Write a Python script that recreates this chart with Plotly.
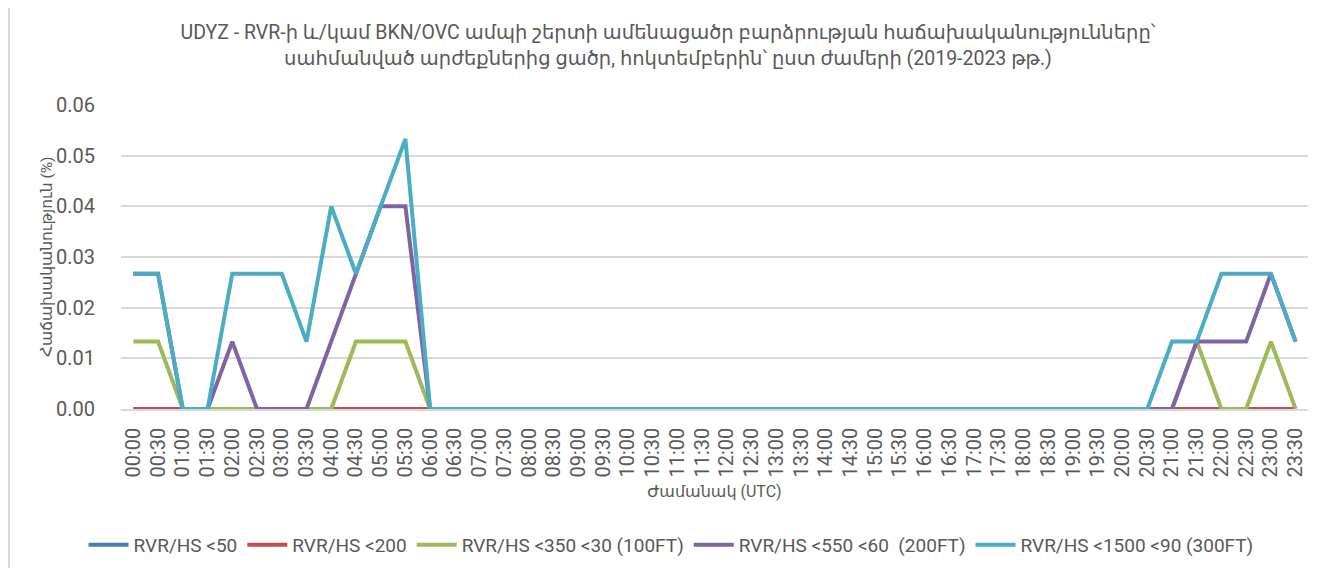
import plotly.graph_objects as go

times = [f"{h:02d}:{m:02d}" for h in range(24) for m in (0, 30)]

s50 = [0.0] * 48
s200 = [0.0] * 48
s350 = [0.0133, 0.0133, 0, 0, 0, 0, 0, 0, 0, 0.0133, 0.0133, 0.0133,
        0, 0, 0, 0, 0, 0, 0, 0, 0, 0, 0, 0,
        0, 0, 0, 0, 0, 0, 0, 0, 0, 0, 0, 0,
        0, 0, 0, 0, 0, 0, 0, 0.0133, 0, 0, 0.0133, 0]
s550 = [0.0267, 0.0267, 0, 0, 0.0133, 0, 0, 0, 0.0133, 0.0267, 0.04, 0.04,
        0, 0, 0, 0, 0, 0, 0, 0, 0, 0, 0, 0,
        0, 0, 0, 0, 0, 0, 0, 0, 0, 0, 0, 0,
        0, 0, 0, 0, 0, 0, 0, 0.0133, 0.0133, 0.0133, 0.0267, 0.0133]
s1500 = [0.0267, 0.0267, 0, 0, 0.0267, 0.0267, 0.0267, 0.0133, 0.04, 0.0267, 0.04, 0.0533,
         0, 0, 0, 0, 0, 0, 0, 0, 0, 0, 0, 0,
         0, 0, 0, 0, 0, 0, 0, 0, 0, 0, 0, 0,
         0, 0, 0, 0, 0, 0, 0.0133, 0.0133, 0.0267, 0.0267, 0.0267, 0.0133]

series = [
    ("RVR/HS <50", s50, "#4a7ebb"),
    ("RVR/HS <200", s200, "#c0504d"),
    ("RVR/HS <350 <30 (100FT)", s350, "#9bbb59"),
    ("RVR/HS <550 <60  (200FT)", s550, "#8064a2"),
    ("RVR/HS <1500 <90 (300FT)", s1500, "#4bacc6"),
]

title = ("UDYZ - RVR-ի և/կամ BKN/OVC ամպի շերտի ամենացածր բարձրության հաճախականությունները՝<br>"
         "սահմանված արժեքներից ցածր, հոկտեմբերին՝ ըստ ժամերի (2019-2023 թթ.)")
y_title = "Հաճախականություն (%)"
x_title = "Ժամանակ (UTC)"

FONT = "Roboto, DejaVu Sans, sans-serif"
GRAY = "#595959"

fig = go.Figure()
for name, vals, col in series:
    fig.add_trace(go.Scatter(x=times, y=vals, name=name, mode="lines",
                             line=dict(color=col, width=4)))

fig.update_layout(
    width=1336, height=568,
    paper_bgcolor="white", plot_bgcolor="white",
    margin=dict(l=113, r=36, t=97, b=167, autoexpand=False),
    font=dict(family=FONT, color=GRAY),
    title=dict(text=title, x=0.494, xanchor="center", y=0.945, yanchor="top",
               font=dict(size=19.5, color=GRAY, family=FONT)),
    legend=dict(orientation="h", xref="container", x=0.4963, xanchor="center",
                y=-0.447, yanchor="middle",
                font=dict(size=19, color=GRAY), itemwidth=40, tracegroupgap=0),
    xaxis=dict(type="category", range=[-0.5, 47.5], tickangle=-90,
               tickfont=dict(size=20, color=GRAY), automargin=False,
               showgrid=False, showline=True, linecolor="#d9d9d9", linewidth=1.5,
               ticks="", ticklabelstandoff=9,
               title=dict(text=x_title, font=dict(size=16, color=GRAY), standoff=9)),
    yaxis=dict(range=[0, 0.06], dtick=0.01, tickformat=".2f", automargin=False,
               tickfont=dict(size=20, color=GRAY), ticklabelstandoff=25,
               showgrid=True, gridcolor="#d9d9d9", gridwidth=1.5, zeroline=False, showline=False),
    showlegend=True,
)
fig.add_annotation(text=y_title, xref="paper", yref="paper", x=-0.0623, y=0.5,
                   xanchor="center", yanchor="middle", textangle=-90, showarrow=False,
                   font=dict(size=15.5, color=GRAY, family=FONT))
# outer chart frame (vertical edges)
fig.add_shape(type="line", xref="paper", yref="paper", x0=-0.0944, x1=-0.0944, y0=-1, y1=2,
              line=dict(color="#d9d9d9", width=2))
fig.add_shape(type="line", xref="paper", yref="paper", x0=1.0185, x1=1.0185, y0=-1, y1=2,
              line=dict(color="#d9d9d9", width=2))

fig.write_html("out.html")
